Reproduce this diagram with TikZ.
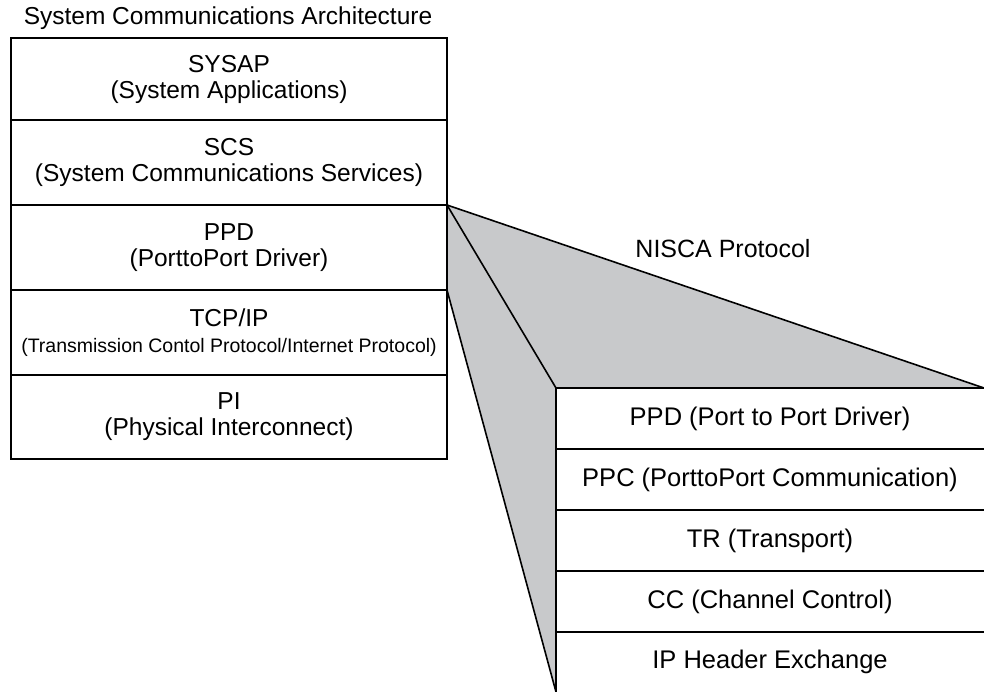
\documentclass[tikz,border=0pt]{standalone}
\usepackage{fontspec}
\setmainfont{Liberation Sans}
\definecolor{fanfill}{RGB}{200,201,203}
\begin{document}
\begin{tikzpicture}[x=1pt,y=-1pt,
  layer/.style={draw, line width=1.6pt, minimum width=436pt, inner sep=0pt, outer sep=0pt,
    anchor=north west, align=center, font=\fontsize{24.5}{26}\selectfont},
  rlayer/.style={minimum width=428pt, inner sep=0pt, outer sep=0pt,
    anchor=north west, align=center, font=\fontsize{25.5}{27}\selectfont},
  rule/.style={line width=1.6pt},
  lbl/.style={anchor=base, inner sep=0pt, font=\fontsize{24.5}{26}\selectfont}]
\useasboundingbox (0,0) rectangle (984,692);

% right stack (text only)
\node[rlayer, minimum height=61pt] (r1) at (556,388) {PPD (Port to Port Driver)};
\node[rlayer, minimum height=61pt] (r2) at (556,449) {PPC (PorttoPort Communication)};
\node[rlayer, minimum height=61pt] (r3) at (556,510) {TR (Transport)};
\node[rlayer, minimum height=61pt] (r4) at (556,571) {CC (Channel Control)};
\node[rlayer, minimum height=60pt] (r5) at (556,632) {IP Header Exchange};

% left stack
\node[layer, minimum height=82pt] (sysap) at (11,38) {SYSAP\\(System Applications)};
\node[layer, minimum height=85pt] (scs) at (11,120) {SCS\\(System Communications Services)};
\node[layer, minimum height=85pt] (ppd) at (11,205) {PPD\\(PorttoPort Driver)};
\node[layer, minimum height=85pt] (tcp) at (11,290) {TCP/IP\\{\fontsize{19.5}{22}\selectfont(Transmission Contol Protocol/Internet Protocol)}};
\node[layer, minimum height=84pt] (pi) at (11,375) {PI\\(Physical Interconnect)};

% fan
\filldraw[rule, fill=fanfill] (ppd.north east) -- (r1.north east) -- (r1.north west)
  -- (r5.south west) -- (ppd.south east) -- cycle;
\draw[rule] (ppd.north east) -- (r1.north west);

% right stack rules
\foreach \r in {r1,r2,r3,r4,r5} \draw[rule] (\r.north west) -- (\r.north east);
\draw[rule] (r1.north west) -- (r5.south west);

% labels
\node[lbl] (title) at (228,25) {System Communications Architecture};
\node[lbl, font=\fontsize{25}{27}\selectfont] (nisca) at (723,258) {NISCA Protocol};
\end{tikzpicture}
\end{document}
